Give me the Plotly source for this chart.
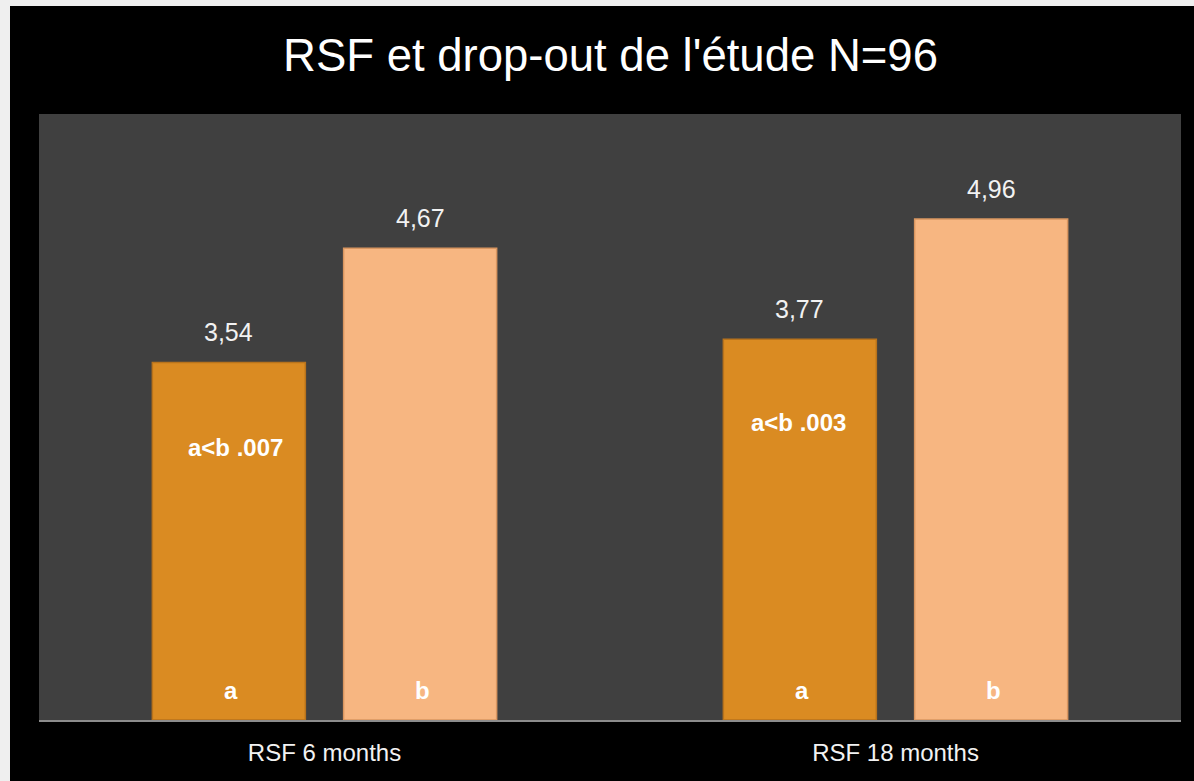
import plotly.graph_objects as go

categories = ["RSF 6 months", "RSF 18 months"]
series_a = [3.54, 3.77]
series_b = [4.67, 4.96]
series_names = ["a", "b"]
comparison_labels = ["a<b .007", "a<b .003"]
comparison_y = [2.7, 2.95]
title_text = "RSF et drop-out de l'étude N=96"

W, H = 1194, 781
ML, MR, MT, MB = 39, 13, 114, 61
plot_w = W - ML - MR
plot_h = H - MT - MB
BARGAP = 0.33
BARGROUPGAP = 0.2
cat_w = plot_w / len(categories)
slot = cat_w * (1 - BARGAP) / 2
shift_a = -slot / 2
shift_b = slot / 2

col_a = "#DA8B22"
col_b = "#F7B681"

fig = go.Figure()
fig.add_trace(go.Bar(x=categories, y=series_a, name=series_names[0],
                     marker=dict(color=col_a, line=dict(color="#B8731C", width=1.5))))
fig.add_trace(go.Bar(x=categories, y=series_b, name=series_names[1],
                     marker=dict(color=col_b, line=dict(color="#D99660", width=1.5))))

ann = []
def fmt(v):
    return f"{v:.2f}".replace(".", ",")

for i, c in enumerate(categories):
    for vals, sh, nm in ((series_a, shift_a, series_names[0]), (series_b, shift_b, series_names[1])):
        ann.append(dict(x=c, y=vals[i], xref="x", yref="y", text=fmt(vals[i]),
                        showarrow=False, xshift=sh, yshift=14, yanchor="bottom",
                        font=dict(family="Liberation Sans, Arial", size=25, color="#F2F2F2")))
        ann.append(dict(x=c, y=0, xref="x", yref="y", text=f"<b>{nm}</b>",
                        showarrow=False, xshift=sh + 2, yshift=30, yanchor="middle",
                        font=dict(family="Liberation Sans, Arial", size=24, color="#FFFFFF")))
    ann.append(dict(x=c, y=comparison_y[i], xref="x", yref="y", text=f"<b>{comparison_labels[i]}</b>",
                    showarrow=False, xshift=shift_a + (7 if i == 0 else -1), yanchor="middle",
                    font=dict(family="Liberation Sans, Arial", size=24, color="#FFFFFF")))

def px_x(p):
    return (p - ML) / plot_w
def px_y(p):
    return (H - MB - p) / plot_h

shapes = [
    dict(type="rect", xref="paper", yref="paper", x0=px_x(0), x1=px_x(10), y0=px_y(H + 5), y1=px_y(-5),
         fillcolor="#EFEFEF", line=dict(width=0), layer="above"),
    dict(type="rect", xref="paper", yref="paper", x0=px_x(0), x1=px_x(W + 5), y0=px_y(6), y1=px_y(-5),
         fillcolor="#EFEFEF", line=dict(width=0), layer="above"),
]

fig.update_layout(
    width=W, height=H,
    margin=dict(l=ML, r=MR, t=MT, b=MB, pad=0),
    paper_bgcolor="#000000",
    plot_bgcolor="#404040",
    barmode="group",
    bargap=BARGAP,
    bargroupgap=BARGROUPGAP,
    showlegend=False,
    separators=", ",
    title=dict(text=title_text, x=px_x(610.5), xref="paper", xanchor="center",
               y=1 - 55 / H, yref="container", yanchor="middle",
               font=dict(family="Liberation Sans, Arial", size=45.5, color="#FFFFFF")),
    annotations=ann,
    shapes=shapes,
    font=dict(family="Liberation Sans, Arial", color="#F2F2F2"),
)
fig.update_xaxes(showline=True, linecolor="#8C8C8C", linewidth=2, showgrid=False,
                 ticks="outside", ticklen=10, tickcolor="rgba(0,0,0,0)",
                 tickfont=dict(family="Liberation Sans, Arial", size=24, color="#F2F2F2"))
fig.update_yaxes(range=[0, 6], showgrid=False, zeroline=False, showticklabels=False,
                 showline=False, ticks="")

fig.write_html("out.html", config={"displayModeBar": False},
               post_script="document.body.style.margin='0';document.body.style.overflow='hidden';")
